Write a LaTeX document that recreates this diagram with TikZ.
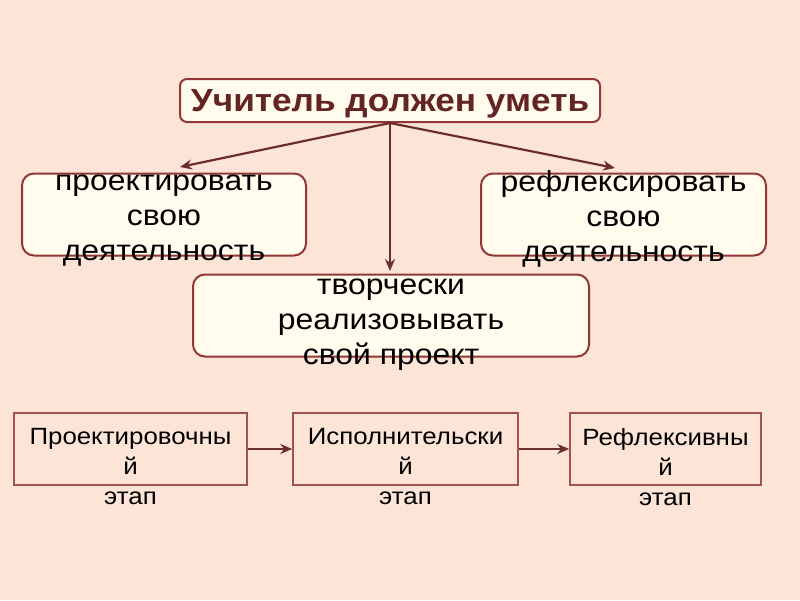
\documentclass[tikz,border=0pt]{standalone}
\usepackage{fontspec}
\setmainfont{Liberation Sans}[FakeStretch=1.1]
\usepackage{tikz}
\usetikzlibrary{arrows.meta,positioning,calc}
\usepackage{xcolor}
\definecolor{pbg}{HTML}{FCE5D7}
\definecolor{pfill}{HTML}{FFFCEE}
\definecolor{pedge}{HTML}{943634}
\definecolor{pline}{HTML}{A0524D}
\definecolor{parrow}{HTML}{6B2D2D}
\definecolor{ptitle}{HTML}{632423}
\tikzset{
  topbox/.style   = {draw=pedge, line width=2pt, fill=pfill, rounded corners=7pt,
                     minimum width=420pt, minimum height=43pt, inner sep=0pt,
                     text depth=0pt, text=ptitle, font=\bfseries\fontsize{32}{38}\selectfont},
  skillbox/.style = {draw=pedge, line width=2pt, fill=pfill, rounded corners=12pt,
                     minimum height=82pt, inner sep=0pt},
  skilltext/.style= {align=center, inner sep=0pt, font=\fontsize{29}{35}\selectfont},
  stagebox/.style = {draw=pline, line width=1.6pt, minimum height=72pt, inner sep=0pt},
  stagetext/.style= {align=center, inner sep=0pt, font=\fontsize{23.5}{30}\selectfont},
  sig/.style      = {-{Stealth[length=12pt,width=10pt]}, parrow, line width=2.2pt},
}

\begin{document}
\begin{tikzpicture}[x=1pt,y=-1pt]
% background
\fill[pbg] (0,0) rectangle (800,600);
\useasboundingbox (0,0) rectangle (800,600);
% head
\node[topbox] (teach) at (390,100.5) {Учитель должен уметь};
% skills
\node[skillbox, minimum width=284pt] (plan) at (164,214.5) {};
\node[skilltext] (plantxt) at (164,221) {проектировать\\свою\\деятельность};
\node[skillbox, minimum width=285pt] (refl) at (623.5,214.5) {};
\node[skilltext] (refltxt) at (623.5,218.5) {рефлексировать\\свою\\деятельность};
\node[skillbox, minimum width=396pt] (real) at (391,315.5) {};
\node[skilltext] (realtxt) at (391,325) {творчески\\реализовывать\\свой проект};
% arrow ends
\coordinate (plantip) at (180,167);
\coordinate (refltip) at (615,168);
\coordinate (realtip) at (390,271);
\draw[sig] (teach.south) -- (plantip);
\draw[sig] (teach.south) -- (refltip);
\draw[sig] (teach.south) -- (realtip);
% stages
\node[stagebox, minimum width=233pt] (st1) at (130.5,449) {};
\node[stagetext] (st1txt) at (130.5,466.6) {Проектировочны\\й\\этап};
\node[stagebox, minimum width=225pt] (st2) at (405.5,449) {};
\node[stagetext] (st2txt) at (405.5,466.6) {Исполнительски\\й\\этап};
\node[stagebox, minimum width=191pt] (st3) at (665.5,449) {};
\node[stagetext] (st3txt) at (665.5,466.6) {Рефлексивны\\й\\этап};
\draw[sig, line width=1.8pt] (st1) -- (st2);
\draw[sig, line width=1.8pt] (st2) -- (st3);
\end{tikzpicture}
\end{document}
